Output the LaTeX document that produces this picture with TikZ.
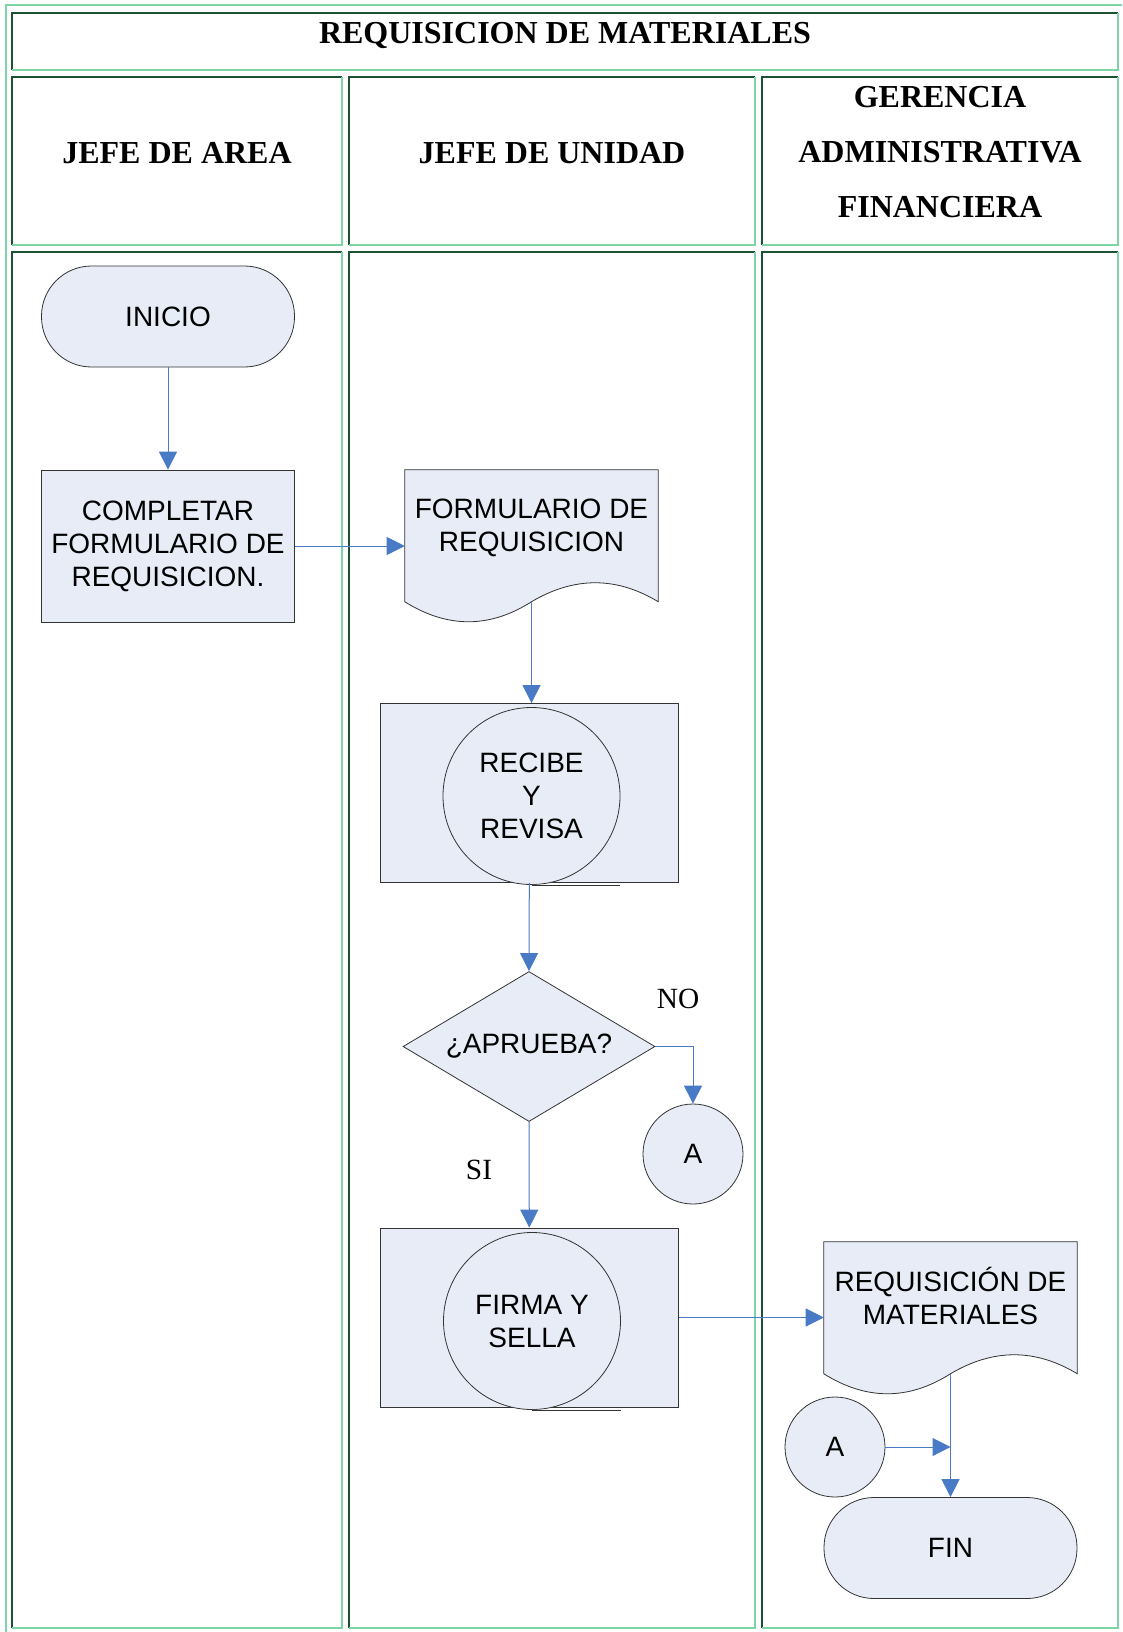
\documentclass[tikz,border=0pt]{standalone}
\usepackage{fontspec}
\setmainfont{Liberation Serif}
\newfontfamily\arialfont{Liberation Sans}
\usepackage{xcolor}
\usepackage{tikz}
\usetikzlibrary{arrows.meta,calc,positioning,shapes.geometric}

\definecolor{celldark}{RGB}{27,82,50}
\definecolor{celllight}{RGB}{125,212,165}
\definecolor{shapefill}{RGB}{231,236,247}
\definecolor{flowblue}{RGB}{72,122,198}

\begin{document}
\begin{tikzpicture}[x=0.75pt, y=-0.75pt,
		darkedge/.style={draw=celldark, line width=1.2pt},
		lightedge/.style={draw=celllight, line width=1.2pt},
		head/.style={font=\fontsize{24}{41.25}\selectfont\bfseries, align=center},
		shapeline/.style={draw=black!80, line width=0.6pt, fill=shapefill},
		shapetext/.style={font=\arialfont\fontsize{21}{24.75}\selectfont, align=center},
		proc/.style={shapeline, shapetext, rectangle, minimum width=189.75pt, minimum height=114pt, inner sep=0pt},
		term/.style={proc, minimum height=75.75pt, rounded corners=37.5pt},
		docbox/.style={rectangle, minimum width=189.75pt, minimum height=114pt, inner sep=0pt},
		subbox/.style={shapeline, rectangle, minimum width=224pt, minimum height=134.25pt, inner sep=0pt},
		subcirc/.style={shapeline, shapetext, circle, minimum size=132.75pt, inner sep=0pt},
		conn/.style={shapeline, shapetext, circle, minimum size=75pt, inner sep=0pt},
		decision/.style={shapeline, shapetext, diamond, aspect=1.68, minimum width=189pt, minimum height=112.5pt, inner sep=0pt},
		flow/.style={draw=flowblue, line width=0.75pt, -{Triangle[length=13.5pt, width=13.5pt]}},
		branch/.style={font=\fontsize{22}{26}\selectfont}]
		\useasboundingbox (0,0) rectangle (1122,1632);
		% table frame
		\draw[lightedge] (6,1632) -- (6,5) -- (1122,5);
		\draw[darkedge] (12,70) -- (12,13) -- (1118,13);
		\draw[lightedge] (1118,13) -- (1118,70) -- (12,70);
		\draw[darkedge] (12,245) -- (12,77) -- (342,77);
		\draw[lightedge] (342,77) -- (342,245) -- (12,245);
		\draw[darkedge] (349,245) -- (349,77) -- (755,77);
		\draw[lightedge] (755,77) -- (755,245) -- (349,245);
		\draw[darkedge] (762,245) -- (762,77) -- (1118,77);
		\draw[lightedge] (1118,77) -- (1118,245) -- (762,245);
		\draw[darkedge] (12,1628) -- (12,252) -- (342,252);
		\draw[lightedge] (342,252) -- (342,1628) -- (12,1628);
		\draw[darkedge] (349,1628) -- (349,252) -- (755,252);
		\draw[lightedge] (755,252) -- (755,1628) -- (349,1628);
		\draw[darkedge] (762,1628) -- (762,252) -- (1118,252);
		\draw[lightedge] (1118,252) -- (1118,1628) -- (762,1628);
		\node[head] (Titulo) at (565,35) {REQUISICION DE MATERIALES};
		\node[head] (JefeArea) at (177,153) {JEFE DE AREA};
		\node[head] (JefeUnidad) at (552,153) {JEFE DE UNIDAD};
		\node[head] (Gerencia) at (940,152) {GERENCIA\\ADMINISTRATIVA\\FINANCIERA};
		% jefe de area
		\node[term] (Inicio) at (168,316.5) {INICIO};
		\node[proc] (Completar) at (168,546) {COMPLETAR\\FORMULARIO DE\\REQUISICION.};
		% jefe de unidad
		\node[docbox] (Form) at (531.5,546) {};
		\draw[shapeline] (Form.north west) -- (Form.north east) -- ($(Form.north east)+(0,132)$)
			.. controls ($(Form.north east)+(-42,106.7)$) and ($(Form.north east)+(-84,106.7)$) .. ($(Form.north)+(0,132)$)
			.. controls ($(Form.north)+(-42,158.7)$) and ($(Form.north)+(-84,158.7)$) .. ($(Form.north west)+(0,132)$) -- cycle;
		\node[shapetext] (FormTxt) at ($(Form.center)+(0,-18)$) {FORMULARIO DE\\REQUISICION};
		\coordinate (FormOut) at ($(Form.north)+(0,132)$);
		\node[subbox] (RecibeBox) at (529.3,793) {};
		\node[subcirc] (Recibe) at (531.5,796) {RECIBE\\Y\\REVISA};
		\draw[shapeline] (Recibe.south) -- ++(88.5,0);
		\node[decision] (Aprueba) at (529,1046.5) {¿APRUEBA?};
		\node[conn] (ConA) at (693,1154) {A};
		\node[branch] (No) at (678,999) {NO};
		\node[branch] (Si) at (479,1170) {SI};
		\node[subbox] (FirmaBox) at (529.3,1317.5) {};
		\node[subcirc] (Firma) at (532,1321) {FIRMA Y\\SELLA};
		\draw[shapeline] (Firma.south) -- ++(88.5,0);
		% gerencia
		\node[docbox] (Req) at (950.5,1318) {};
		\draw[shapeline] (Req.north west) -- (Req.north east) -- ($(Req.north east)+(0,132)$)
			.. controls ($(Req.north east)+(-42,106.7)$) and ($(Req.north east)+(-84,106.7)$) .. ($(Req.north)+(0,132)$)
			.. controls ($(Req.north)+(-42,158.7)$) and ($(Req.north)+(-84,158.7)$) .. ($(Req.north west)+(0,132)$) -- cycle;
		\node[shapetext] (ReqTxt) at ($(Req.center)+(0,-22.5)$) {REQUISICIÓN DE\\MATERIALES};
		\coordinate (ReqOut) at ($(Req.north)+(0,132)$);
		\node[conn] (ConA2) at (835,1447) {A};
		\node[term] (Fin) at (950.5,1548) {FIN};
		% flujo
		\draw[flow] (Inicio.south) -- (Completar.north);
		\draw[flow] (Completar.east) -- (Form.west);
		\draw[flow] (FormOut) -- (FormOut |- RecibeBox.north);
		\draw[flow] (RecibeBox.south) -- (Aprueba.north);
		\draw[flow] (Aprueba.east) -| (ConA.north);
		\draw[flow] (Aprueba.south) -- (FirmaBox.north);
		\draw[flow] (FirmaBox.east) -- (FirmaBox.east -| Req.west);
		\draw[flow] (ReqOut) -- (Fin.north);
		\draw[flow] (ConA2.east) -- (ConA2.east -| ReqOut);
	\end{tikzpicture}
\end{document}
